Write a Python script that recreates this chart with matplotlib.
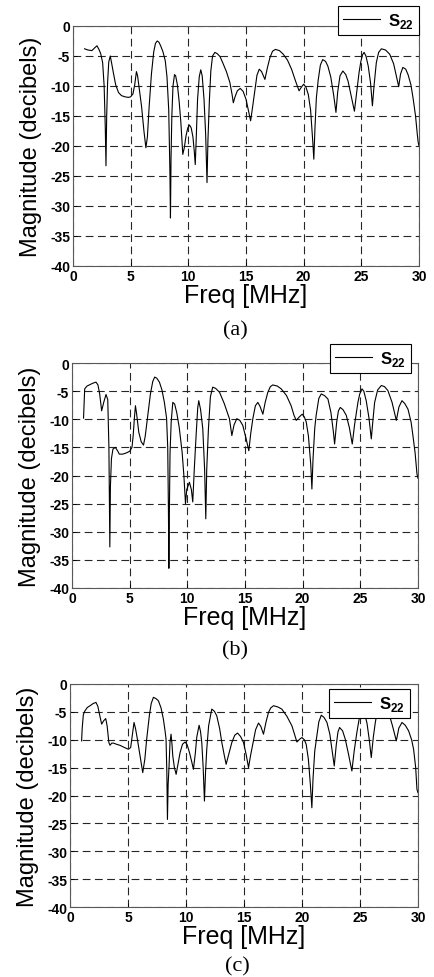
import matplotlib.pyplot as plt

plt.rcParams['font.family'] = ['Liberation Sans', 'DejaVu Sans']
plt.rcParams['axes.unicode_minus'] = False
plt.rcParams['mathtext.fontset'] = 'custom'
plt.rcParams['mathtext.rm'] = 'Liberation Sans:bold'
plt.rcParams['mathtext.bf'] = 'Liberation Sans:bold'

# panel (a): S22 magnitude (freq in MHz, magnitude in dB)
freq_a = [1.0, 1.3, 1.64, 1.9, 2.08, 2.25, 2.4, 2.57, 2.7, 2.8, 2.86, 2.92, 3.0, 3.1, 3.23,
          3.35, 3.5, 3.7, 3.95, 4.2, 4.5, 4.8, 5.0, 5.2, 5.35, 5.5, 5.6, 5.75, 5.95, 6.15,
          6.32, 6.45, 6.6, 6.8, 7.0, 7.15, 7.3, 7.45, 7.6, 7.8, 8.0, 8.15, 8.3, 8.4, 8.45,
          8.5, 8.57, 8.67, 8.8, 8.9, 9.05, 9.2, 9.35, 9.52, 9.65, 9.8, 9.95, 10.1, 10.25,
          10.4, 10.52, 10.6, 10.68, 10.8, 10.95, 11.08, 11.2, 11.36, 11.5, 11.62, 11.7,
          11.83, 11.95, 12.1, 12.3, 12.5, 12.75, 13.0, 13.3, 13.6, 13.8, 13.9, 14.05, 14.25,
          14.5, 14.75, 15.0, 15.2, 15.4, 15.55, 15.78, 15.95, 16.15, 16.35, 16.64, 16.85,
          17.07, 17.3, 17.55, 17.9, 18.23, 18.6, 18.95, 19.3, 19.6, 19.8, 20.0, 20.2, 20.4,
          20.6, 20.78, 20.88, 20.98, 21.1, 21.26, 21.45, 21.65, 21.9, 22.1, 22.35, 22.6,
          22.8, 22.95, 23.15, 23.4, 23.65, 23.85, 24.1, 24.4, 24.6, 24.8, 24.95, 25.1, 25.24,
          25.4, 25.6, 25.8, 25.96, 26.1, 26.3, 26.5, 26.74, 27.1, 27.46, 27.8, 28.05, 28.24,
          28.4, 28.6, 28.85, 29.05, 29.3, 29.5, 29.7, 29.85, 29.93, 30.0]
mag_a = [-3.8, -4.0, -4.1, -3.6, -3.3, -3.9, -4.6, -6.1, -10.0, -17, -23.3, -15, -9.4, -6.0, -5.0,
         -6.2, -7.8, -9.8, -11.1, -11.6, -11.8, -11.9, -11.8, -11.3, -9.8, -7.6, -8.3, -10.5, -13.5, -17.5,
         -20.3, -18.5, -13.5, -8.0, -4.3, -2.9, -2.5, -2.7, -3.3, -4.3, -5.8, -8.5, -14, -24, -32,
         -22, -15, -10, -8.1, -8.3, -9.8, -12.5, -16, -21.4, -20.3, -18.3, -17.0, -16.5, -17.0,
         -18.5, -21, -23.1, -19, -12.2, -8.4, -7.3, -8.3, -12.2, -18, -26.1, -19,
         -12.2, -7.5, -5.0, -4.4, -4.6, -5.1, -6.2, -7.6, -9.4, -11.5, -12.8, -11.8, -10.8,
         -10.4, -10.9, -12.2, -14, -15.8, -13.8, -10.6, -8.2, -7.2, -7.6, -8.9, -7.0,
         -5.3, -4.2, -3.9, -4.1, -4.7, -5.7, -7.2, -9.2, -10.8, -10.2, -9.7, -10.2, -11.4,
         -14, -19, -22.2, -17, -12, -9.0, -6.5, -5.6, -5.9, -6.7, -8.5, -11.5,
         -14.4, -11, -8.3, -7.5, -8.1, -9.2, -11.5, -14.2, -11, -7.8, -6.0, -4.8, -4.4,
         -5.0, -6.7, -9.5, -13.3, -10, -6.1, -4.4, -3.8, -4.0, -4.7, -6.3, -8.5, -10.1,
         -8.0, -6.9, -7.2, -8.1, -9.8, -12.2, -15, -18, -19.4, -20]

# panel (b)
freq_b = [1.0, 1.05, 1.1, 1.3, 1.5, 1.8, 2.08, 2.25, 2.4, 2.57, 2.75, 2.95, 3.1, 3.2, 3.28,
          3.33, 3.42, 3.55, 3.76, 3.95, 4.1, 4.4, 4.7, 5.0, 5.2, 5.3, 5.42, 5.5, 5.6, 5.79,
          6.0, 6.2, 6.35, 6.57, 6.8, 7.0, 7.17, 7.35, 7.58, 7.8, 8.01, 8.2, 8.3, 8.36, 8.4,
          8.44, 8.5, 8.6, 8.74, 8.9, 9.08, 9.3, 9.55, 9.7, 9.84, 9.95, 10.18, 10.35, 10.47,
          10.6, 10.76, 10.9, 10.99, 11.15, 11.34, 11.5, 11.6, 11.68, 11.83, 12.0, 12.2,
          12.45, 12.79, 13.2, 13.65, 13.86, 14.05, 14.29, 14.55, 14.81, 15.1, 15.33, 15.5,
          15.68, 15.9, 16.11, 16.3, 16.55, 16.75, 16.98, 17.2, 17.41, 17.8, 18.14, 18.6,
          19.0, 19.25, 19.44, 19.7, 19.96, 20.15, 20.31, 20.5, 20.7, 20.8, 20.9, 21.05,
          21.17, 21.4, 21.61, 21.9, 22.19, 22.45, 22.65, 22.77, 22.95, 23.1, 23.26, 23.5,
          23.78, 24.05, 24.3, 24.5, 24.79, 24.95, 25.14, 25.3, 25.51, 25.75, 25.95, 26.1,
          26.24, 26.5, 26.82, 27.1, 27.39, 27.75, 28.12, 28.35, 28.61, 28.85, 29.13, 29.4,
          29.56, 29.75, 29.91, 30.0]
mag_b = [-9.8, -7, -4.6, -4.1, -3.9, -3.6, -3.4, -3.9, -5.5, -8.5, -7.0, -5.6, -6.5, -15, -32.7,
         -22, -17, -15.3, -15.0, -15.6, -16.2, -16.2, -16.0, -15.7, -15.0, -13, -9.5, -7.6, -9.0, -12.3,
         -14.0, -14.6, -13, -9.3, -5.5, -3.3, -2.5, -2.7, -3.4, -4.8, -7.0, -9.8, -15, -26, -36.5,
         -27, -16, -10.5, -7.0, -7.3, -8.8, -11.5, -15.9, -20, -25, -22.5, -21.2, -22.5, -24.7,
         -19, -12.9, -8, -6.7, -8.3, -11.7, -19, -27.7, -19, -11.7, -6.0, -4.3,
         -4.5, -5.2, -7.2, -9.9, -12.9, -11, -9.9, -10.2, -11.1, -13.5, -15.6, -12.5,
         -9.9, -7.6, -7.0, -7.7, -9.1, -7.0, -5.2, -4.2, -3.9, -4.1, -4.6, -5.8,
         -7.6, -9.3, -10.2, -9.6, -9.1, -9.6, -10.5, -13, -18, -22.4, -17, -11.5,
         -9.3, -6.3, -5.5, -5.8, -6.4, -8.8, -12, -14.4, -10.5, -8.5, -7.9, -8.3,
         -9.3, -11.5, -14.4, -11, -7.0, -5.5, -4.6, -5.0, -6.7, -9.8, -13.5, -10,
         -7.0, -4.8, -4.0, -4.2, -4.9, -7.0, -10.2, -7.8, -6.7, -7.2, -8.2, -10.5,
         -12.9, -16, -19.7, -20.5]

# panel (c)
freq_c = [1.0, 1.05, 1.15, 1.29, 1.5, 1.73, 2.0, 2.24, 2.4, 2.55, 2.73, 2.9, 3.08, 3.2, 3.35,
          3.45, 3.6, 3.74, 4.0, 4.31, 4.7, 5.03, 5.23, 5.35, 5.52, 5.65, 5.81, 6.05, 6.27,
          6.45, 6.61, 6.85, 7.0, 7.19, 7.4, 7.62, 7.85, 8.05, 8.2, 8.28, 8.35, 8.4, 8.46,
          8.54, 8.62, 8.71, 8.8, 8.86, 9.0, 9.15, 9.3, 9.49, 9.7, 9.92, 10.1, 10.3, 10.5,
          10.64, 10.8, 10.93, 11.13, 11.25, 11.36, 11.48, 11.59, 11.68, 11.79, 11.95, 12.22,
          12.45, 12.65, 12.9, 13.09, 13.3, 13.46, 13.7, 13.95, 14.2, 14.44, 14.7, 14.96,
          15.2, 15.39, 15.55, 15.73, 16.0, 16.25, 16.45, 16.68, 16.9, 17.11, 17.3, 17.54,
          17.9, 18.26, 18.7, 19.13, 19.35, 19.56, 19.8, 19.99, 20.2, 20.36, 20.55, 20.72,
          20.85, 20.95, 21.1, 21.28, 21.45, 21.66, 21.9, 22.15, 22.4, 22.6, 22.78, 22.95,
          23.1, 23.24, 23.5, 23.73, 24.0, 24.3, 24.5, 24.73, 24.95, 25.17, 25.35, 25.6,
          25.8, 25.97, 26.15, 26.32, 26.5, 26.75, 27.1, 27.47, 27.8, 28.13, 28.35, 28.62,
          28.9, 29.19, 29.45, 29.62, 29.8, 29.91, 30.0]
mag_c = [-10.2, -8, -5.5, -4.8, -4.2, -3.9, -3.5, -3.3, -4.0, -5.5, -7.2, -6.6, -6.2, -7.5, -10.5,
         -11.0, -10.6, -10.6, -10.8, -11.0, -11.4, -11.7, -11.4, -9.5, -6.9, -8.0, -9.9, -13, -15.9,
         -13.5, -9.9, -5.5, -3.5, -2.4, -2.6, -3.0, -4.3, -6.3, -8.5, -9.9, -16, -24.3, -18,
         -14.7, -10.5, -9.0, -11, -12.9, -15, -16.2, -14.5, -12.3, -10.8, -10.4, -10.9, -12.3, -14,
         -15.3, -12.5, -9.5, -7.4, -8.5, -10.5, -15, -21, -16, -11.7, -7.5, -4.5,
         -4.9, -5.7, -8.0, -10.5, -12.8, -14.4, -12.5, -10.5, -9.2, -8.8, -9.4, -10.5,
         -12.8, -15.0, -13, -11.1, -8.2, -7.0, -7.6, -9.0, -6.8, -5.1, -4.3, -3.9,
         -4.1, -4.5, -5.8, -7.5, -9.0, -10.4, -9.9, -9.6, -10.0, -10.8, -13.5, -18,
         -22.2, -17, -12, -9.3, -6.8, -5.6, -6.0, -6.9, -9.0, -12, -14.7, -11,
         -8.6, -7.8, -8.4, -9.9, -12.5, -15.6, -12, -8.7, -6.0, -4.5, -4.9, -7.0,
         -10, -13.2, -9.5, -6.9, -4.8, -4.2, -4.4, -5.1, -7.5, -10.2, -7.9, -6.9,
         -7.4, -8.4, -10, -11.7, -15, -18.9, -19.5]

xticks = [0, 5, 10, 15, 20, 25, 30]
yticks = [-40, -35, -30, -25, -20, -15, -10, -5, 0]
panel_tags = ['(a)', '(b)', '(c)']

fig = plt.figure(figsize=(4.34, 9.78), dpi=100)

boxes = [[73 / 434, 1 - 267 / 978, 346 / 434, 240 / 978],
         [72 / 434, 1 - 589 / 978, 346 / 434, 225 / 978],
         [70 / 434, 1 - 908 / 978, 348 / 434, 223 / 978]]
legend_anchor = [(1.0, 1.083), (0.98, 1.084), (0.977, 0.978)]
tag_pos = [(0.542, 1 - 331 / 978), (0.542, 1 - 651 / 978), (0.546, 1 - 967 / 978)]

for i, (f, m) in enumerate([(freq_a, mag_a), (freq_b, mag_b), (freq_c, mag_c)]):
    ax = fig.add_axes(boxes[i])
    ax.plot(f, m, color='k', lw=0.8, label=r'S$_\mathbf{22}$')
    ax.set_xlim(0, 30)
    ax.set_ylim(-40, 0)
    ax.set_xticks(xticks)
    ax.set_yticks(yticks)
    ax.grid(True, color='0.15', ls=(0, (7, 4)), lw=0.8)
    ax.tick_params(direction='in', length=3, width=0.6, labelsize=10, pad=2)
    for lab in ax.get_xticklabels() + ax.get_yticklabels():
        lab.set_fontweight('bold')
    for sp in ax.spines.values():
        sp.set_color('0.35')
        sp.set_linewidth(0.8)
    ax.set_xlabel('Freq [MHz]', fontsize=18, labelpad=0)
    ax.set_ylabel('Magnitude (decibels)', fontsize=17, labelpad=6)
    leg = ax.legend(loc='upper right', bbox_to_anchor=legend_anchor[i],
                    prop={'size': 12, 'weight': 'bold'},
                    fancybox=False, framealpha=1, edgecolor='k', handlelength=2.2,
                    borderpad=0.3, handletextpad=0.5, borderaxespad=0)
    leg.get_frame().set_linewidth(0.8)
    leg.set_zorder(5)
    fig.text(tag_pos[i][0], tag_pos[i][1], panel_tags[i], fontsize=16,
             family='Liberation Serif', ha='center', va='center')

fig.savefig('out.png', dpi=100)
